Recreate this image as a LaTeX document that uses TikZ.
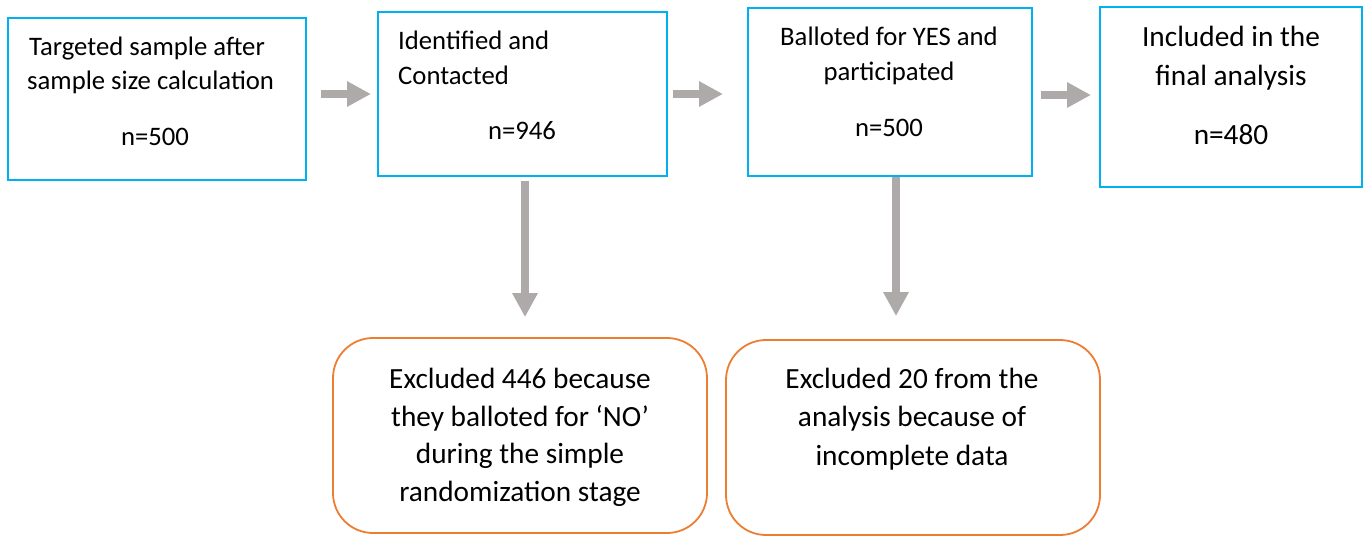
\documentclass[tikz,border=0pt]{standalone}
\usepackage{fontspec}
\setmainfont{Carlito}
\usetikzlibrary{arrows.meta}
\definecolor{boxblue}{HTML}{00B0F0}
\definecolor{boxorange}{HTML}{ED7D31}
\definecolor{arrgray}{HTML}{AEAAAA}
\tikzset{
  bluebox/.style={draw=boxblue, line width=2pt, rectangle, inner sep=0pt},
  orangebox/.style={draw=boxorange, line width=1.8pt, rectangle, rounded corners=40pt, inner sep=0pt},
  smalltxt/.style={inner sep=0pt, font=\fontsize{26.7}{30}\selectfont},
  bigtxt/.style={inner sep=0pt, font=\fontsize{29.3}{34}\selectfont},
  arr/.style={draw=arrgray, line width=8pt, -{Triangle[width=24pt,length=24pt]}}
}
\begin{document}
\begin{tikzpicture}[x=1pt,y=-1pt]
\useasboundingbox (0,0) rectangle (1364,536);
% boxes
\node[bluebox, minimum width=298pt, minimum height=162pt] (b1) at (157,99) {};
\node[bluebox, minimum width=289pt, minimum height=164pt] (b2) at (522.5,94) {};
\node[bluebox, minimum width=284pt, minimum height=168pt] (b3) at (890,92) {};
\node[bluebox, minimum width=262pt, minimum height=180pt] (b4) at (1231,97) {};
\node[orangebox, minimum width=374pt, minimum height=195pt] (e1) at (520,435.5) {};
\node[orangebox, minimum width=374pt, minimum height=195pt] (e2) at (913,437.5) {};
% texts
\node[smalltxt, anchor=base west] (t1a) at (29,55) {Targeted sample after};
\node[smalltxt, anchor=base west] (t1b) at (27,89) {sample size calculation};
\node[smalltxt, anchor=base] (t1c) at (155,145) {n=500};
\node[smalltxt, anchor=base west] (t2a) at (398,49) {Identified and};
\node[smalltxt, anchor=base west] (t2b) at (398,84) {Contacted};
\node[smalltxt, anchor=base] (t2c) at (522,139) {n=946};
\node[smalltxt, anchor=base] (t3a) at (889,45) {Balloted for YES and};
\node[smalltxt, anchor=base] (t3b) at (889,80) {participated};
\node[smalltxt, anchor=base] (t3c) at (889,136) {n=500};
\node[bigtxt, anchor=base] (t4a) at (1231,46) {Included in the};
\node[bigtxt, anchor=base] (t4b) at (1231,85) {final analysis};
\node[bigtxt, anchor=base] (t4c) at (1231,144) {n=480};
\node[bigtxt, anchor=base] (e1a) at (520,388) {Excluded 446 because};
\node[bigtxt, anchor=base] (e1b) at (520,426) {they balloted for ‘NO’};
\node[bigtxt, anchor=base] (e1c) at (520,463) {during the simple};
\node[bigtxt, anchor=base] (e1d) at (520,501) {randomization stage};
\node[bigtxt, anchor=base] (e2a) at (912,388) {Excluded 20 from the};
\node[bigtxt, anchor=base] (e2b) at (912,426) {analysis because of};
\node[bigtxt, anchor=base] (e2c) at (912,465) {incomplete data};
% arrows
\draw[arr, shorten <=14pt, shorten >=6pt] (b1.east |- b2.west) -- (b2.west);
\draw[arr, shorten <=5pt, shorten >=24pt] (b2.east) -- (b2.east -| b3.west);
\draw[arr, shorten <=8pt, shorten >=8pt] ([yshift=-3pt]b3.east) -- ([yshift=-3pt]b3.east -| b4.west);
\draw[arr, shorten <=4pt, shorten >=20pt] ([xshift=2.5pt]b2.south) -- ([xshift=2.5pt]b2.south |- e1.north);
\draw[arr, shorten <=0pt, shorten >=23pt] ([xshift=6pt]b3.south) -- ([xshift=6pt]b3.south |- e2.north);
\end{tikzpicture}
\end{document}
